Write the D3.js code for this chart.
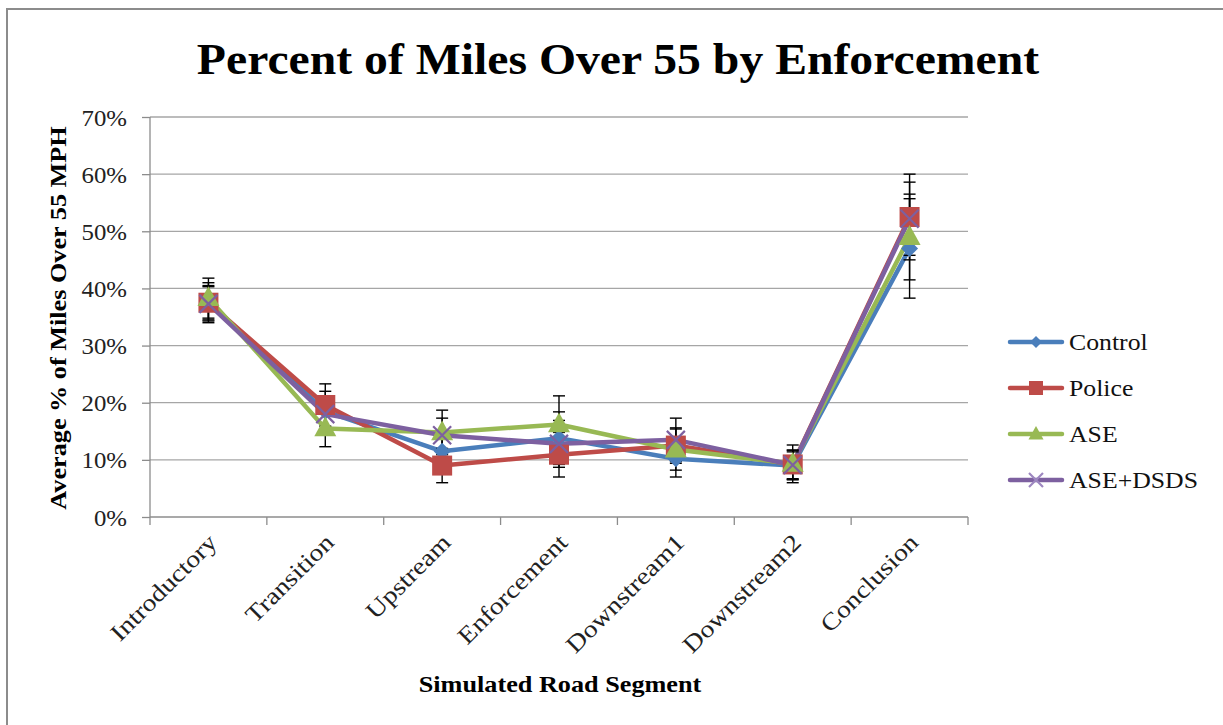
<!DOCTYPE html>
<html><head><meta charset="utf-8">
<script src="https://cdn.jsdelivr.net/npm/d3@7"></script>
<style>body{margin:0;background:#fff}svg{display:block}text{font-family:"Liberation Serif","Times New Roman",serif}</style>
</head><body><svg id="c" width="1223" height="725"></svg>
<script>
const categories = ["Introductory","Transition","Upstream","Enforcement","Downstream1","Downstream2","Conclusion"];
const seriesNames = ["Control","Police","ASE","ASE+DSDS"];
const controlVals = [37.5, 18.5, 11.5, 13.8, 10.2, 9.0, 47.0];
const policeVals  = [37.5, 19.6, 9.0, 10.9, 12.5, 9.2, 52.5];
const aseVals     = [38.3, 15.5, 14.8, 16.2, 11.8, 9.3, 49.0];
const dsdsVals    = [37.3, 18.0, 14.3, 12.8, 13.5, 9.1, 52.2];
const controlErr  = [3.5, 3.5, 3.0, 4.6, 3.2, 2.4, 8.7];
const policeErr   = [3.0, 3.7, 3.0, 3.9, 3.1, 2.5, 7.5];
const aseErr      = [3.5, 3.2, 3.9, 5.0, 3.6, 3.3, 7.5];
const dsdsErr     = [3.0, 3.0, 3.0, 4.1, 3.8, 2.6, 6.4];
const yTicks = [0,10,20,30,40,50,60,70];
const colors = ["#4A7EBB","#BE4B48","#98B954","#7D60A0"];
const markers = ["diamond","square","triangle","x"];

const series = seriesNames.map((n,i)=>({name:n,
  vals:[controlVals,policeVals,aseVals,dsdsVals][i],
  err:[controlErr,policeErr,aseErr,dsdsErr][i],
  color:colors[i], marker:markers[i]}));

const FONT = '"Liberation Serif","Times New Roman",serif';
const svg = d3.select("#c");
svg.append("rect").attr("x",7).attr("y",9).attr("width",1300).attr("height",800)
  .attr("fill","#fff").attr("stroke","#8c8c8c").attr("stroke-width",2);

const L=150,R=968,T=117,B=517;
const x = d3.scaleBand().domain(categories).range([L,R]);
const y = d3.scaleLinear().domain([0,70]).range([B,T]);
const cx = c => x(c)+x.bandwidth()/2;

svg.append("g").selectAll("line").data(yTicks.filter(t=>t>0)).join("line")
  .attr("x1",L).attr("x2",R).attr("y1",d=>y(d)).attr("y2",d=>y(d))
  .attr("stroke","#a6a6a6").attr("stroke-width",1.3);

// y axis
const ya = svg.append("g").attr("transform",`translate(${L},0)`)
  .call(d3.axisLeft(y).tickValues(yTicks).tickFormat(d=>d+"%").tickSize(8).tickPadding(0));
ya.attr("font-family",FONT);
ya.selectAll("path,line").attr("stroke","#8c8c8c").attr("stroke-width",1.3);
ya.select(".domain").attr("d",`M0,${T}V${B}`);
ya.selectAll("text").attr("x",null).attr("dy",null)
  .attr("transform","translate(-23,8) scale(1.08,1)")
  .attr("font-size",23).attr("fill","#222").attr("font-family",FONT);

// x axis
const xa = svg.append("g").attr("transform",`translate(0,${B})`).attr("font-family",FONT);
xa.append("line").attr("x1",L).attr("x2",R).attr("stroke","#8c8c8c").attr("stroke-width",1.3);
const bounds = d3.range(categories.length+1).map(i=>L+i*x.step());
xa.selectAll("line.tk").data(bounds).join("line").attr("class","tk")
  .attr("x1",d=>d).attr("x2",d=>d).attr("y1",0).attr("y2",8)
  .attr("stroke","#8c8c8c").attr("stroke-width",1.3);
xa.selectAll("text").data(categories).join("text")
  .attr("transform",d=>`translate(${cx(d)+10},${27}) rotate(-45) scale(1.16,1)`)
  .attr("text-anchor","end").attr("font-size",24).attr("font-family",FONT).attr("fill","#222").text(d=>d);

const line = d3.line().x((d,i)=>cx(categories[i])).y(d=>y(d));
series.forEach(s=>{
  svg.append("path").attr("d",line(s.vals)).attr("fill","none")
    .attr("stroke",s.color).attr("stroke-width",4.5).attr("stroke-linejoin","round");
});

series.forEach(s=>{
  const g = svg.append("g").attr("stroke","#000").attr("stroke-width",1.4);
  s.vals.forEach((v,i)=>{
    const xc = cx(categories[i]), lo=y(v-s.err[i]), hi=y(v+s.err[i]);
    g.append("line").attr("x1",xc).attr("x2",xc).attr("y1",lo).attr("y2",hi);
    g.append("line").attr("x1",xc-6).attr("x2",xc+6).attr("y1",lo).attr("y2",lo);
    g.append("line").attr("x1",xc-6).attr("x2",xc+6).attr("y1",hi).attr("y2",hi);
  });
});

function drawMarker(g, type, color, px, py, s){
  if(type==="diamond"){
    g.append("path").attr("d",`M${px},${py-s/2}L${px+s/2},${py}L${px},${py+s/2}L${px-s/2},${py}Z`).attr("fill",color);
  } else if(type==="square"){
    g.append("rect").attr("x",px-s/2).attr("y",py-s/2).attr("width",s).attr("height",s).attr("fill",color);
  } else if(type==="triangle"){
    const h=s*0.9;
    g.append("path").attr("d",`M${px},${py-h*0.6}L${px+s/2},${py+h*0.4}L${px-s/2},${py+h*0.4}Z`).attr("fill",color);
  } else {
    const r=s/2;
    g.append("path").attr("d",`M${px-r},${py-r}L${px+r},${py+r}M${px-r},${py+r}L${px+r},${py-r}`)
      .attr("stroke",color).attr("stroke-width",2.2).attr("fill","none");
  }
}
const msize = {diamond:17, square:20, triangle:22, x:18};
series.forEach(s=>{
  const g=svg.append("g");
  s.vals.forEach((v,i)=>drawMarker(g,s.marker,s.color,cx(categories[i]),y(v),msize[s.marker]));
});

// legend
const lg = svg.append("g").attr("font-family",FONT);
series.forEach((s,i)=>{
  const ly = 342 + i*46;
  lg.append("line").attr("x1",1010).attr("x2",1062).attr("y1",ly).attr("y2",ly)
    .attr("stroke",s.color).attr("stroke-width",4.5).attr("stroke-linecap","round");
  const ms = {diamond:12, square:14, triangle:15, x:14}[s.marker];
  drawMarker(lg, s.marker, s.marker==="x" ? "#9d87c0" : s.color, 1036, ly, ms);
  lg.append("text").attr("transform",`translate(1069,${ly+8}) scale(1.12,1)`)
    .attr("font-size",23).attr("fill","#111").text(s.name);
});

svg.append("text").attr("transform","translate(618,74) scale(1.06,1)").attr("text-anchor","middle")
  .attr("font-size",45).attr("font-weight","bold").attr("fill","#000").text("Percent of Miles Over 55 by Enforcement");
svg.append("text").attr("transform","translate(66,318) rotate(-90) scale(1.14,1)").attr("text-anchor","middle")
  .attr("font-size",23).attr("font-weight","bold").attr("fill","#000").text("Average % of Miles Over 55 MPH");
svg.append("text").attr("transform","translate(560,692) scale(1.14,1)").attr("text-anchor","middle")
  .attr("font-size",23).attr("font-weight","bold").attr("fill","#000").text("Simulated Road Segment");
</script></body></html>
